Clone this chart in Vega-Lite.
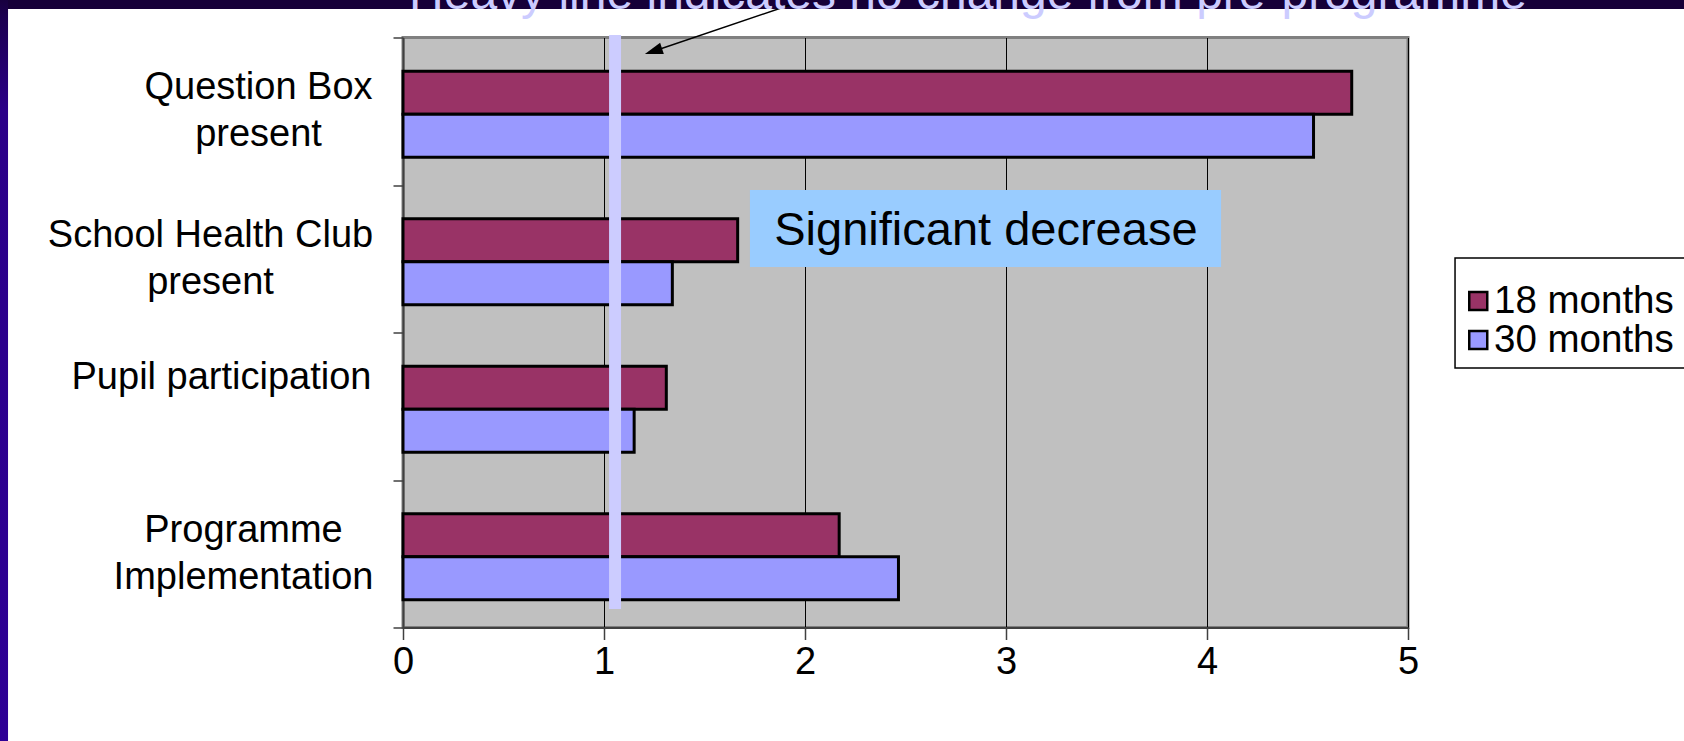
{
  "$schema": "https://vega.github.io/schema/vega-lite/v6.json",
  "width": 1005,
  "height": 590,
  "autosize": {"type": "none"},
  "padding": {"left": 403, "top": 37.5, "right": 276, "bottom": 113.5},
  "background": "white",
  "config": {
    "font": "Liberation Sans",
    "view": {"fill": "#C0C0C0", "stroke": "#808080", "strokeWidth": 3},
    "axis": {"labelFont": "Liberation Sans", "labelColor": "black", "title": null},
    "legend": {"labelFont": "Liberation Sans"}
  },
  "data": {
    "values": [
      {"measure": "Question Box present", "period": "18 months", "score": 4.72},
      {"measure": "Question Box present", "period": "30 months", "score": 4.53},
      {"measure": "School Health Club present", "period": "18 months", "score": 1.665},
      {"measure": "School Health Club present", "period": "30 months", "score": 1.34},
      {"measure": "Pupil participation", "period": "18 months", "score": 1.31},
      {"measure": "Pupil participation", "period": "30 months", "score": 1.15},
      {"measure": "Programme Implementation", "period": "18 months", "score": 2.17},
      {"measure": "Programme Implementation", "period": "30 months", "score": 2.465}
    ]
  },
  "resolve": {"scale": {"y": "independent"}},
  "layer": [
    {
      "layer": [
        {
          "data": {"values": [{}]},
          "mark": {"type": "rect", "clip": false, "fill": "white", "stroke": "black", "strokeWidth": 1.5},
          "encoding": {
            "x": {"datum": 5.234, "type": "quantitative", "scale": {"domain": [0, 5], "nice": false}},
            "x2": {"datum": 7},
            "y": {"datum": 1.495, "type": "quantitative", "scale": {"domain": [0, 4], "reverse": true, "nice": false, "zero": false}, "axis": null},
            "y2": {"datum": 2.241}
          }
        },
        {
          "data": {"values": [{}]},
          "mark": {"type": "rect", "clip": false, "color": "#160038"},
          "encoding": {
            "x": {"datum": -2.1, "type": "quantitative", "scale": {"domain": [0, 5], "nice": false}},
            "x2": {"datum": 7},
            "y": {"datum": -0.3, "type": "quantitative", "scale": {"domain": [0, 4], "reverse": true, "nice": false, "zero": false}, "axis": null},
            "y2": {"datum": -0.193}
          }
        },
        {
          "data": {"values": [{}]},
          "mark": {
            "type": "rect",
            "clip": false,
            "color": {
              "gradient": "linear",
              "x1": 0, "y1": 0, "x2": 0, "y2": 1,
              "stops": [
                {"offset": 0, "color": "#160038"},
                {"offset": 0.03, "color": "#1c0050"},
                {"offset": 0.15, "color": "#2b0088"},
                {"offset": 1, "color": "#2e0096"}
              ]
            }
          },
          "encoding": {
            "x": {"datum": -2.1, "type": "quantitative", "scale": {"domain": [0, 5], "nice": false}},
            "x2": {"datum": -1.965},
            "y": {"datum": -0.3, "type": "quantitative", "scale": {"domain": [0, 4], "reverse": true, "nice": false, "zero": false}, "axis": null},
            "y2": {"datum": 5}
          }
        }
      ]
    },
    {
      "mark": {"type": "bar", "stroke": "black", "strokeWidth": 3, "strokeJoin": "miter"},
      "encoding": {
        "x": {
          "field": "score",
          "type": "quantitative",
          "scale": {"domain": [0, 5], "nice": false, "zero": true},
          "axis": {
            "values": [0, 1, 2, 3, 4, 5],
            "format": "d",
            "grid": true,
            "gridColor": "black",
            "gridWidth": 1,
            "gridOpacity": 1,
            "domainColor": "#404040",
            "domainWidth": 2,
            "tickColor": "#404040",
            "tickWidth": 1.5,
            "tickSize": 12,
            "labelFontSize": 38,
            "labelPadding": 4,
            "labelFlush": false
          }
        },
        "y": {
          "field": "measure",
          "type": "nominal",
          "sort": ["Question Box present", "School Health Club present", "Pupil participation", "Programme Implementation"],
          "scale": {"paddingInner": 0, "paddingOuter": 0},
          "axis": {
            "tickBand": "extent",
            "tickSize": 10,
            "tickColor": "#404040",
            "tickWidth": 1.5,
            "domainColor": "#404040",
            "domainWidth": 2,
            "grid": false,
            "labelFontSize": 38,
            "labelLimit": 500,
            "labelLineHeight": 47,
            "labelAlign": "center",
            "labelBaseline": "middle",
            "labelOffset": {"expr": "datum.value == 'Pupil participation' ? -29 : -23.5"},
            "labelPadding": {"expr": "datum.value == 'Question Box present' ? 135 : datum.value == 'School Health Club present' ? 183 : datum.value == 'Pupil participation' ? 172 : 150"},
            "labelExpr": "datum.value == 'Question Box present' ? ['Question Box', 'present'] : datum.value == 'School Health Club present' ? ['School Health Club', 'present'] : datum.value == 'Programme Implementation' ? ['Programme', 'Implementation'] : datum.label"
          }
        },
        "yOffset": {
          "field": "period",
          "type": "nominal",
          "sort": ["18 months", "30 months"],
          "scale": {"paddingInner": 0, "paddingOuter": 0.715, "align": 0.548}
        },
        "color": {
          "field": "period",
          "type": "nominal",
          "scale": {"domain": ["18 months", "30 months"], "range": ["#993366", "#9999FF"]},
          "legend": {
            "title": null,
            "orient": "none",
            "legendX": 1056,
            "legendY": 250,
            "direction": "vertical",
            "padding": 0,
            "symbolType": "square",
            "symbolSize": 324,
            "symbolStrokeColor": "black",
            "symbolStrokeWidth": 2.5,
            "labelFontSize": 38.5,
            "labelOffset": -3.5,
            "clipHeight": 27,
            "rowPadding": 0,
            "labelLimit": 400
          }
        }
      }
    },
    {
      "layer": [
        {
          "data": {"values": [{}]},
          "mark": {"type": "rule", "clip": false, "color": "#CCCCFF", "strokeWidth": 12, "strokeCap": "butt"},
          "encoding": {
            "x": {"datum": 1.055, "type": "quantitative", "scale": {"domain": [0, 5], "nice": false}},
            "y": {"datum": -0.017, "type": "quantitative", "scale": {"domain": [0, 4], "reverse": true, "nice": false, "zero": false}, "axis": null},
            "y2": {"datum": 3.875}
          }
        },
        {
          "data": {"values": [{}]},
          "mark": {"type": "rect", "clip": false, "color": "#99CCFF"},
          "encoding": {
            "x": {"datum": 1.726, "type": "quantitative", "scale": {"domain": [0, 5], "nice": false}},
            "x2": {"datum": 4.07},
            "y": {"datum": 1.034, "type": "quantitative", "scale": {"domain": [0, 4], "reverse": true, "nice": false, "zero": false}, "axis": null},
            "y2": {"datum": 1.556}
          }
        },
        {
          "data": {"values": [{"note": "Significant decrease"}]},
          "mark": {"type": "text", "clip": false, "color": "black", "fontSize": 47, "align": "center", "baseline": "alphabetic"},
          "encoding": {
            "x": {"datum": 2.9, "type": "quantitative", "scale": {"domain": [0, 5], "nice": false}},
            "y": {"datum": 1.407, "type": "quantitative", "scale": {"domain": [0, 4], "reverse": true, "nice": false, "zero": false}, "axis": null},
            "text": {"field": "note"}
          }
        },
        {
          "data": {"values": [{}]},
          "mark": {"type": "rule", "clip": false, "color": "black", "strokeWidth": 1.5},
          "encoding": {
            "x": {"datum": 1.925, "type": "quantitative", "scale": {"domain": [0, 5], "nice": false}},
            "x2": {"datum": 1.246},
            "y": {"datum": -0.22, "type": "quantitative", "scale": {"domain": [0, 4], "reverse": true, "nice": false, "zero": false}, "axis": null},
            "y2": {"datum": 0.093}
          }
        },
        {
          "data": {"values": [{}]},
          "mark": {"type": "point", "clip": false, "filled": true, "color": "black", "opacity": 1, "size": 324, "angle": 251.6, "shape": "M0,-1L0.65,1L-0.65,1Z"},
          "encoding": {
            "x": {"datum": 1.246, "type": "quantitative", "scale": {"domain": [0, 5], "nice": false}},
            "y": {"datum": 0.093, "type": "quantitative", "scale": {"domain": [0, 4], "reverse": true, "nice": false, "zero": false}, "axis": null}
          }
        },
        {
          "data": {"values": [{"note": "Heavy line indicates no change from pre-programme"}]},
          "mark": {"type": "text", "clip": false, "color": "#CCCCFF", "fontSize": 48, "align": "left", "baseline": "alphabetic"},
          "encoding": {
            "x": {"datum": 0.03, "type": "quantitative", "scale": {"domain": [0, 5], "nice": false}},
            "y": {"datum": -0.193, "type": "quantitative", "scale": {"domain": [0, 4], "reverse": true, "nice": false, "zero": false}, "axis": null},
            "text": {"field": "note"}
          }
        }
      ]
    }
  ]
}
